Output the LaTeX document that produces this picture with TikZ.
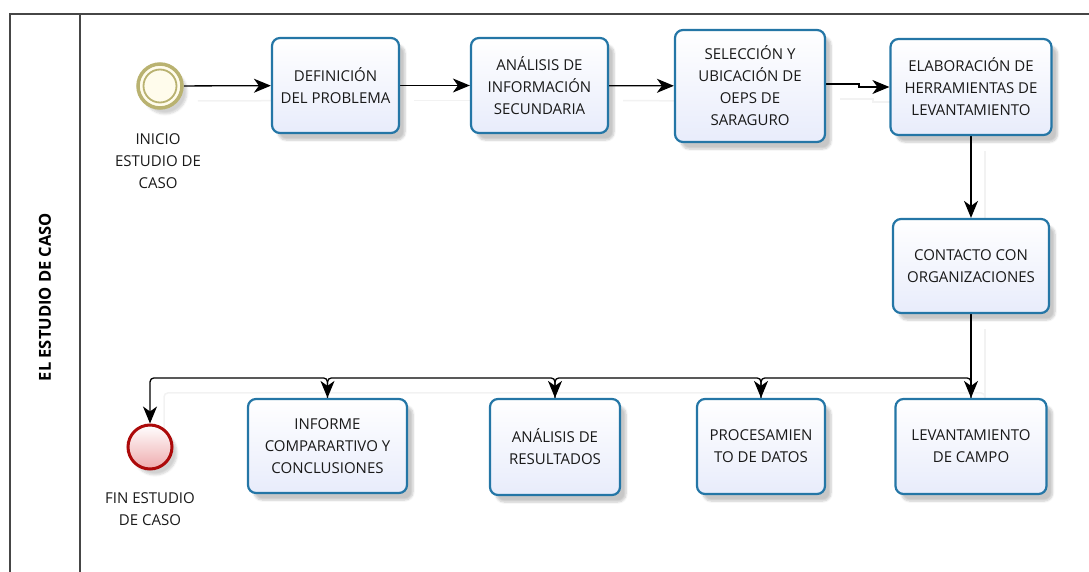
\documentclass[tikz,border=0pt]{standalone}
\usepackage{fontspec}
\setmainfont{Open Sans}
\usetikzlibrary{arrows.meta,shadows.blur,backgrounds}
\definecolor{boxline}{RGB}{36,118,166}
\definecolor{boxbot}{RGB}{232,236,251}
\definecolor{startc}{RGB}{185,178,112}
\definecolor{startfill}{RGB}{255,252,236}
\definecolor{endc}{RGB}{172,10,10}
\definecolor{endfill}{RGB}{238,170,172}
\definecolor{poolc}{RGB}{70,70,70}
\definecolor{txtc}{RGB}{25,25,25}
\begin{document}
\begin{tikzpicture}[x=1pt,y=-1pt,
  txt/.style={font=\fontsize{15}{22}\selectfont, align=center, text=txtc},
  task/.style={txt, draw=boxline, line width=2.2pt, rounded corners=8pt,
    top color=white, bottom color=boxbot, inner sep=0pt,
    blur shadow={shadow xshift=6pt, shadow yshift=-7pt, shadow opacity=22, shadow blur steps=6}},
  flow/.style={draw=black, line width=1.3pt, rounded corners=4pt, -{Stealth[length=17pt,width=14pt,inset=5pt]}},
  cshadow/.style={draw=black!5, line width=1.5pt, rounded corners=4pt, transform canvas={shift={(14pt,-15pt)}}},
  lane/.style={draw=poolc, line width=1.3pt}]
\useasboundingbox (0,0) rectangle (1089,572);

% pool and lane
\draw[lane] (1095,14) -- (10,14) -- (10,580);
\draw[lane] (80,14) -- (80,580);
\node[rotate=90, font=\fontsize{16.5}{19}\selectfont\bfseries, text=black] (lanetitle) at (45,297) {EL ESTUDIO DE CASO};

% events
\node[circle, minimum size=44pt, inner sep=0pt, draw=startc, line width=3.5pt, fill=startfill,
  blur shadow={shadow xshift=5pt, shadow yshift=-6pt, shadow opacity=18, shadow blur steps=5}] (start) at (160,86) {};
\draw[startc, line width=1.8pt] (start.center) circle (16.5);
\node[txt] (startlbl) at (158,161) {INICIO\\ESTUDIO DE\\CASO};

\node[circle, minimum size=44pt, inner sep=0pt, draw=endc, line width=3pt, top color=white, bottom color=endfill,
  blur shadow={shadow xshift=5pt, shadow yshift=-6pt, shadow opacity=18, shadow blur steps=5}] (fin) at (150,447) {};
\node[txt] (finlbl) at (150,509.5) {FIN ESTUDIO\\DE CASO};

% tasks
\node[task, minimum width=127pt, minimum height=95pt] (def) at (335.5,85.5) {DEFINICIÓN\\DEL PROBLEMA};
\node[task, minimum width=137pt, minimum height=95pt] (ana) at (539.5,85.5) {ANÁLISIS DE\\INFORMACIÓN\\SECUNDARIA};
\node[task, minimum width=150pt, minimum height=112pt] (sel) at (750,86) {SELECCIÓN Y\\UBICACIÓN DE\\OEPS DE\\SARAGURO};
\node[task, minimum width=161pt, minimum height=96pt] (elab) at (971,87) {ELABORACIÓN DE\\HERRAMIENTAS DE\\LEVANTAMIENTO};
\node[task, minimum width=156pt, minimum height=94pt] (cont) at (971,266) {CONTACTO CON\\ORGANIZACIONES};
\node[task, minimum width=151pt, minimum height=95pt] (lev) at (971,446.5) {LEVANTAMIENTO\\DE CAMPO};
\node[task, minimum width=128pt, minimum height=95pt] (proc) at (761,446.5) {PROCESAMIEN\\TO DE DATOS};
\node[task, minimum width=130pt, minimum height=96pt] (res) at (555,447) {ANÁLISIS DE\\RESULTADOS};
\node[task, minimum width=159pt, minimum height=94pt] (inf) at (327.5,446) {INFORME\\COMPARARTIVO Y\\CONCLUSIONES};

% connectors
\begin{pgfonlayer}{background}
\draw[cshadow] (start) -- (def);
\draw[cshadow] (def) -- (ana);
\draw[cshadow] (ana) -- (sel);
\draw[cshadow, sharp corners] ([yshift=2pt]sel.east) -- ++(33,0) -- ++(0,3) -- (elab.west);
\draw[cshadow] (elab) -- (cont);
\draw[cshadow] (cont) -- (lev);
\draw[cshadow] (lev.north) -- ++(0,-20) -| (fin.north);

\draw[flow] (start) -- (def);
\draw[flow] (def) -- (ana);
\draw[flow] (ana) -- (sel);
\draw[flow, sharp corners] ([yshift=2pt]sel.east) -- ++(33,0) -- ++(0,3) -- (elab.west);
\draw[flow] (elab) -- (cont);
\draw[flow] (cont) -- (lev);
\draw[flow] (lev.north) -- ++(0,-20) -| (proc.north);
\draw[flow] (proc.north) -- ++(0,-20) -| (res.north);
\draw[flow] (res.north) -- ++(0,-20) -| (inf.north);
\draw[flow] (inf.north) -- ++(0,-20) -| (fin.north);
\end{pgfonlayer}
\end{tikzpicture}
\end{document}
